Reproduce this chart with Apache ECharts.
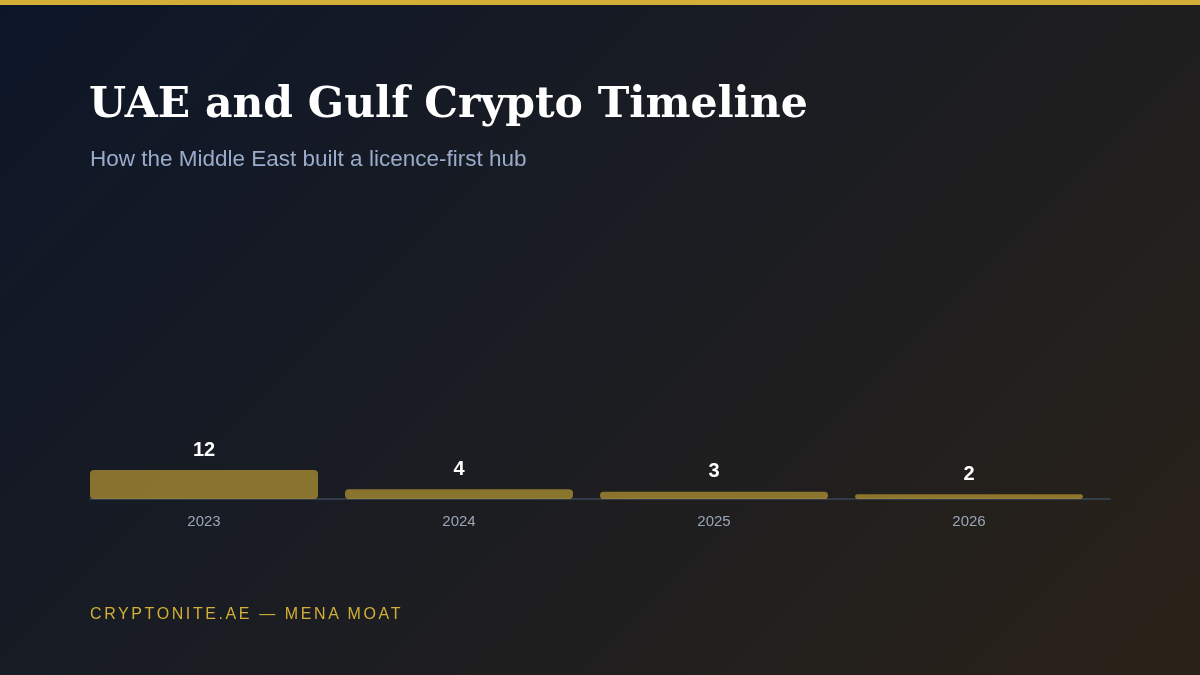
<!DOCTYPE html>
<html>
<head>
<meta charset="utf-8">
<script src="https://cdn.jsdelivr.net/npm/echarts@6/dist/echarts.min.js"></script>
<style>
  html, body { margin:0; padding:0; width:1200px; height:675px; overflow:hidden; }
  body { background: linear-gradient(135deg, #0d1628 0%, #1b1d22 50%, #2a2218 100%); }
  #topline { position:absolute; left:0; top:0; width:1200px; height:5px; background:#d4af37; }
  #chart { position:absolute; left:0; top:0; width:1200px; height:675px; }
  #footer { position:absolute; left:90px; top:605px; color:#d4af37; font-family:'Liberation Sans', sans-serif;
            font-size:16px; letter-spacing:2.6px; }
</style>
</head>
<body>
<div id="topline"></div>
<div id="chart"></div>
<div id="footer">CRYPTONITE.AE — MENA MOAT</div>
<script>
var years = ['2023', '2024', '2025', '2026'];
var counts = [12, 4, 3, 2];

var myChart = echarts.init(document.getElementById('chart'), null, { renderer: 'canvas' });
option = {
    backgroundColor: 'transparent',
    title: [{
        text: 'UAE and Gulf Crypto Timeline',
        left: 84, top: 79,
        textStyle: { color: '#ffffff', fontFamily: 'DejaVu Serif', fontWeight: 'bold', fontSize: 42.5 }
    }, {
        text: 'How the Middle East built a licence-first hub',
        left: 85, top: 143,
        textStyle: { color: '#9aaccb', fontFamily: 'Liberation Sans', fontWeight: 'normal', fontSize: 22.5 }
    }],
    grid: { left: 90, right: 90, top: 200, bottom: 176 },
    xAxis: {
        type: 'category',
        data: years,
        axisLine: { lineStyle: { color: '#3a4558', width: 1.5 } },
        axisTick: { show: false },
        axisLabel: { color: '#9aa6b8', fontSize: 15, margin: 15, fontFamily: 'Liberation Sans', padding: [0, 27, 0, 0] }
    },
    yAxis: { type: 'value', min: 0, max: 124, show: false, splitLine: { show: false } },
    series: [{
        type: 'bar',
        data: counts,
        barWidth: 228,
        barGap: 0,
        itemStyle: { color: 'rgba(212,175,55,0.6)', borderRadius: 4 },
        label: {
            show: true, position: 'top', distance: 10,
            color: '#ffffff', fontWeight: 'bold', fontSize: 20, fontFamily: 'Liberation Sans'
        }
    }, {
        type: 'bar',
        data: [],
        barWidth: 27,
        silent: true
    }]
};
myChart.setOption(option);
</script>
</body>
</html>
